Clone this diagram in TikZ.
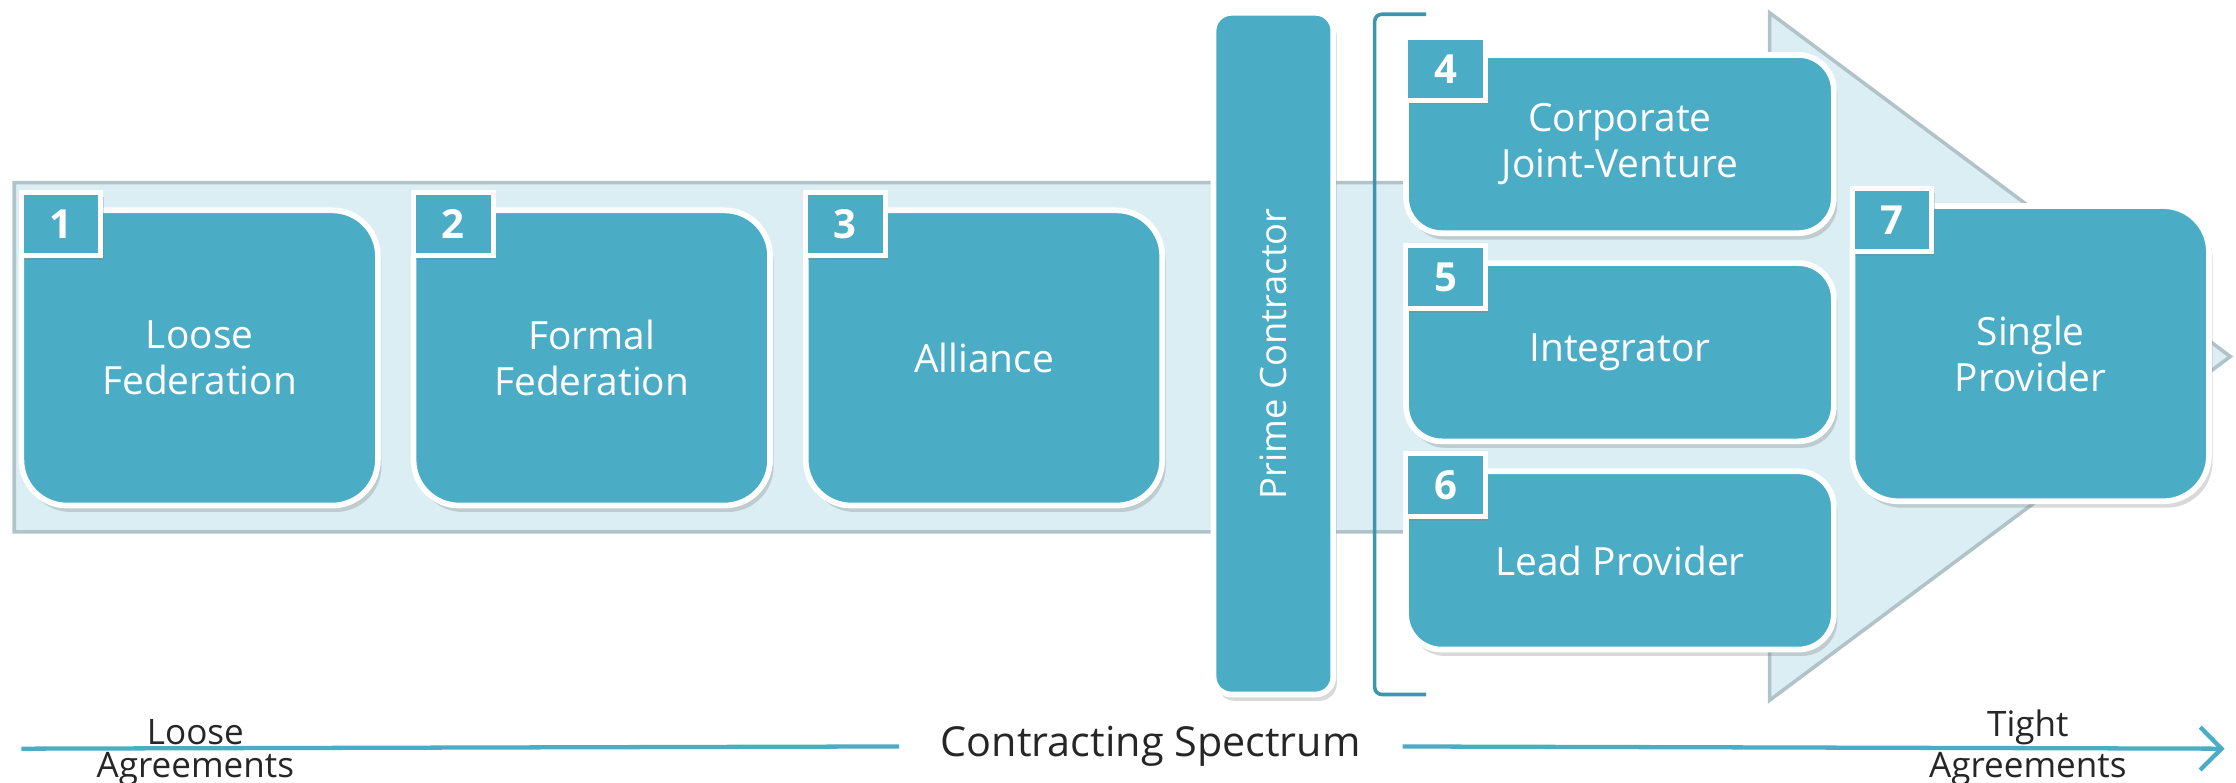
\documentclass[tikz,border=0pt]{standalone}
\usepackage{fontspec}
\setmainfont{Open Sans}
\usetikzlibrary{shadows,arrows.meta}

\definecolor{stageblue}{HTML}{4BACC6}
\definecolor{bandfill}{HTML}{DAEEF3}
\definecolor{bandline}{HTML}{AFC3C9}
\definecolor{bracketblue}{HTML}{3E95AE}

\tikzset{
  stage/.style={fill=stageblue, draw=white, line width=0.8mm, text=white, align=center,
    font=\fontsize{15.5}{18.5}\selectfont,
    drop shadow={shadow xshift=0.5mm, shadow yshift=-0.9mm, opacity=0.3}},
  stage big/.style={stage, rounded corners=6.4mm, minimum width=50mm, minimum height=41.4mm},
  stage wide/.style={stage, rounded corners=5mm, minimum width=60mm, minimum height=25mm},
  badge/.style={fill=stageblue, draw=white, line width=0.7mm, text=white,
    font=\fontsize{16}{16}\bfseries\selectfont, minimum width=11.2mm, minimum height=8.8mm,
    inner sep=0pt, anchor=north west,
    drop shadow={shadow xshift=0.4mm, shadow yshift=-0.6mm, opacity=0.3}},
  prime/.style={stage, rotate=90, rounded corners=2.5mm, minimum width=95.6mm,
    minimum height=16.8mm, font=\fontsize{14.5}{17}\selectfont},
  band/.style={fill=bandfill, draw=bandline, line width=0.5mm},
  bracket/.style={draw=bracketblue, line width=0.5mm, rounded corners=1mm},
  axis/.style={draw=stageblue, line width=0.6mm},
  axis label/.style={inner xsep=5.8mm, text=black!85, font=\fontsize{16.5}{19}\selectfont},
  end label/.style={inner sep=0.4mm, text=black!85, font=\fontsize{14}{16}\selectfont}
}

\begin{document}
\begin{tikzpicture}[x=0.2mm, y=-0.2mm, >={Straight Barb[length=3mm, width=6mm, line width=0.6mm]}]

    \useasboundingbox (0,0) rectangle (1568,549);

    % spectrum arrow in the back
    \draw [band] (10,128) -- (1241,128) -- (1241,9) -- (1564,250)
      -- (1241,491) -- (1241,373) -- (10,373) -- cycle;

    % stages 1 to 3
    \foreach \n/\l [count=\i from 0] in {1/{Loose\\Federation}, 2/{Formal\\Federation}, 3/Alliance}
      \node [stage big] (stage-\n) at (140+275*\i,251) {\l};

    % prime contractor
    \node [prime] (prime) at (893,248) {Prime Contractor};

    % bracket
    \draw [bracket] (1000,10) -- (964,10) -- (964,487) -- (1000,487);

    % stages 4 to 6
    \foreach \n/\l [count=\i from 0] in {4/{Corporate\\Joint-Venture}, 5/Integrator, 6/Lead Provider}
      \node [stage wide] (stage-\n) at (1136,101+146*\i) {\l};

    % stage 7
    \node [stage big] (stage-7) at (1424,248) {Single\\Provider};

    % badges
    \foreach \n in {1,...,7}
      \node [badge] (badge-\n) at ([yshift=2.4mm]stage-\n.north west) {\n};

    % axis
    \coordinate (loose) at (15,525);
    \coordinate (tight) at (1560,525);
    \node [axis label] (spectrum) at (807,523) {Contracting Spectrum};
    \draw [axis] (loose) -- (spectrum);
    \draw [axis, ->] (spectrum) -- (tight);

    % axis ends
    \node [end label, above] (loose-top) at (137,525) {Loose};
    \node [end label, below] (loose-bottom) at (137,525) {Agreements};
    \node [end label, above] (tight-top) at (1422,525) {Tight};
    \node [end label, below] (tight-bottom) at (1422,525) {Agreements};

\end{tikzpicture}
\end{document}
